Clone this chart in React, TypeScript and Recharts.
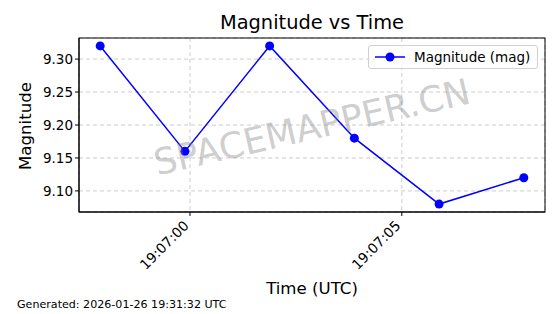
import React from 'react';
import { LineChart, Line, XAxis, YAxis, CartesianGrid } from 'recharts';

// seconds relative to 19:07:00 UTC
const timeOffsets = [-2.12, -0.12, 1.88, 3.88, 5.88, 7.88];
const magnitudes = [9.32, 9.16, 9.32, 9.18, 9.08, 9.12];
const xTicks = [0, 5];
const xTickLabels = ['19:07:00', '19:07:05'];
const yTicks = [9.1, 9.15, 9.2, 9.25, 9.3];

const data = timeOffsets.map((t, i) => ({ t, mag: magnitudes[i] }));

const font = '"DejaVu Sans", sans-serif';

const XTick = (props: any) => {
  const { x, y, payload } = props;
  const label = xTickLabels[xTicks.indexOf(payload.value)] ?? '';
  return (
    <g transform={`translate(${x - 6},${y + 3})`}>
      <text x={0} y={0} dy={8} transform="rotate(-45)" textAnchor="end" fill="#000" fontSize={13.8} fontFamily={font}>
        {label}
      </text>
    </g>
  );
};

export default function App() {
  return (
    <div style={{ position: 'absolute', left: 0, top: 0, width: 560, height: 314, background: '#fff', fontFamily: font }}>
      <div style={{ position: 'absolute', left: 0, width: 624, top: 11, textAlign: 'center', fontSize: 19.4, color: '#000' }}>
        Magnitude vs Time
      </div>
      <LineChart width={560} height={314} data={data} margin={{ top: 38, right: 15, left: 19, bottom: 42 }}>
        <CartesianGrid stroke="#cccccc" strokeDasharray="4 3" />
        <XAxis
          dataKey="t"
          type="number"
          domain={[-2.62, 8.38]}
          ticks={xTicks}
          tick={<XTick />}
          tickLine={{ stroke: '#000' }}
          tickSize={4}
          axisLine={{ stroke: '#000' }}
          height={60}
          interval={0}
        />
        <YAxis
          type="number"
          domain={[9.068, 9.332]}
          ticks={yTicks}
          tickFormatter={(v: number) => v.toFixed(2)}
          tick={{ fill: '#000', fontSize: 13.5, fontFamily: font }}
          tickLine={{ stroke: '#000' }}
          tickSize={4}
          axisLine={{ stroke: '#000' }}
          width={60}
          interval={0}
          allowDataOverflow
        />
        <Line
          dataKey="mag"
          stroke="#0000ff"
          strokeWidth={1.5}
          dot={{ r: 4.5, fill: '#0000ff', stroke: '#0000ff', strokeWidth: 0 }}
          isAnimationActive={false}
        />
        <rect x={79} y={38} width={466} height={174} fill="none" stroke="#000" strokeWidth={1} />
      </LineChart>
      <div
        style={{
          position: 'absolute',
          left: 368,
          top: 45,
          display: 'flex',
          alignItems: 'center',
          border: '1px solid #d0d0d0',
          borderRadius: 3,
          background: 'rgba(255,255,255,0.8)',
          padding: '3px 7px 3px 6px',
          fontSize: 13.5,
          color: '#000',
          whiteSpace: 'nowrap',
        }}
      >
        <svg width={30} height={12} style={{ marginRight: 9 }}>
          <line x1={0} y1={6} x2={30} y2={6} stroke="#0000ff" strokeWidth={1.5} />
          <circle cx={15} cy={6} r={4.5} fill="#0000ff" />
        </svg>
        Magnitude (mag)
      </div>
      <div
        style={{
          position: 'absolute',
          left: 312,
          top: 127,
          transform: 'translate(-50%, -50%) rotate(-13deg)',
          fontSize: 36,
          color: 'rgba(128,128,128,0.4)',
          whiteSpace: 'nowrap',
          pointerEvents: 'none',
        }}
      >
        SPACEMAPPER.CN
      </div>
      <div
        style={{
          position: 'absolute',
          left: 25,
          top: 126,
          transform: 'translate(-50%, -50%) rotate(-90deg)',
          fontSize: 16.6,
          color: '#000',
          whiteSpace: 'nowrap',
        }}
      >
        Magnitude
      </div>
      <div style={{ position: 'absolute', left: 0, width: 624, top: 279, textAlign: 'center', fontSize: 16.6, color: '#000' }}>
        Time (UTC)
      </div>
      <div style={{ position: 'absolute', left: 17, top: 298, fontSize: 11.1, color: '#000' }}>
        Generated: 2026-01-26 19:31:32 UTC
      </div>
    </div>
  );
}
